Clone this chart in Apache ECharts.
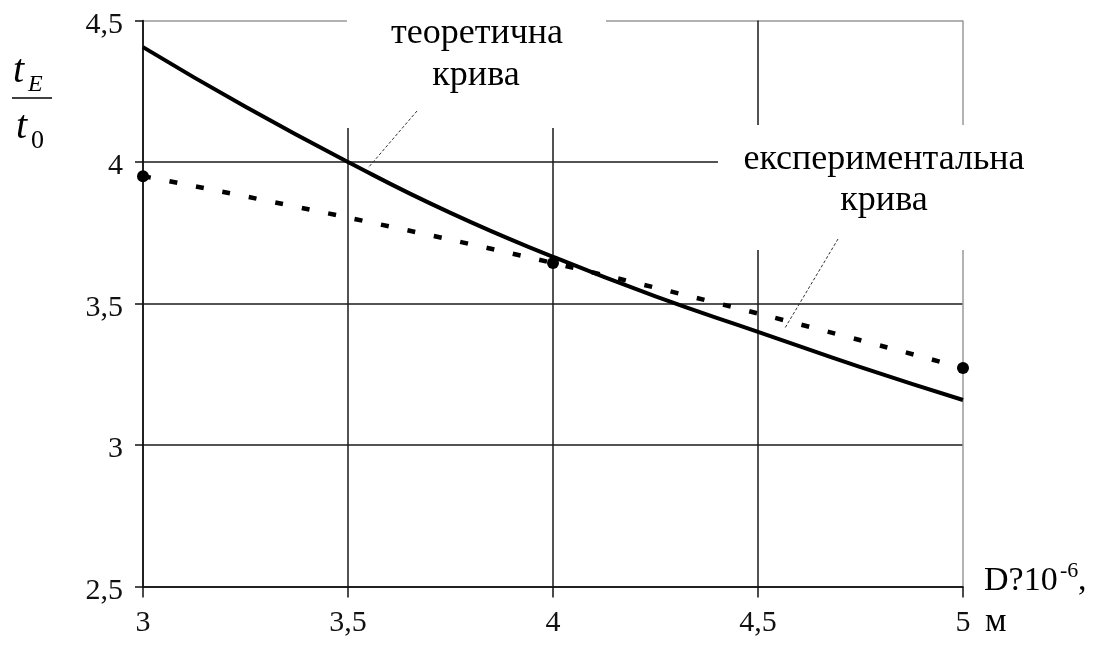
<!DOCTYPE html>
<html><head><meta charset="utf-8">
<script src="https://cdn.jsdelivr.net/npm/echarts@6/dist/echarts.min.js"></script>
<style>html,body{margin:0;padding:0;background:#fff}#c{width:1093px;height:655px}</style>
</head><body><div id="c"></div>
<script>
// ---- data ----
const xTicks = [3, 3.5, 4, 4.5, 5];
const yTicks = [2.5, 3, 3.5, 4, 4.5];
const theoryX = [3, 3.25, 3.5, 3.75, 4, 4.25, 4.5, 4.75, 5];
const theoryY = [4.406, 4.195, 4.0, 3.82, 3.665, 3.525, 3.40, 3.275, 3.159];
const expX = [3, 4, 5];
const expY = [3.95, 3.643, 3.272];
const labelTheory = ['теоретична', 'крива'];
const labelExp = ['експериментальна', 'крива'];

const F = '"Liberation Serif", "Times New Roman", serif';
const fmt = v => String(v).replace('.', ',');

const chart = echarts.init(document.getElementById('c'), null, {renderer: 'canvas'});
const GRID = {left: 143, top: 20.5, width: 820, height: 566};

const option = {
  backgroundColor: '#fff',
  animation: false,
  grid: GRID,
  xAxis: {
    type: 'value', min: xTicks[0], max: xTicks[xTicks.length - 1], interval: 0.5,
    axisLine: {show: true, lineStyle: {color: '#111', width: 1.5}},
    axisTick: {show: true, length: 11, lineStyle: {color: '#111', width: 1.5}},
    axisLabel: {color: '#111', fontFamily: F, fontSize: 30, margin: 22, formatter: fmt},
    splitLine: {show: true, lineStyle: {color: ['#1a1a1a', '#1a1a1a', '#1a1a1a', '#1a1a1a', '#999'], width: 1.5}}
  },
  yAxis: {
    type: 'value', min: yTicks[0], max: yTicks[yTicks.length - 1], interval: 0.5,
    axisLine: {show: true, lineStyle: {color: '#111', width: 1.5}},
    axisTick: {show: true, length: 8, lineStyle: {color: '#111', width: 1.5}},
    axisLabel: {
      color: '#111', fontFamily: F, fontSize: 30, margin: 20,
      formatter: v => '{a|' + fmt(v) + '}',
      rich: {a: {color: '#111', fontFamily: F, fontSize: 30, padding: [9, 0, 0, 0]}}
    },
    splitLine: {show: true, lineStyle: {color: ['#1a1a1a', '#1a1a1a', '#1a1a1a', '#1a1a1a', '#999'], width: 1.5}}
  },
  series: [
    {
      type: 'line', name: 'theory', smooth: true, showSymbol: false, symbol: 'none',
      data: theoryX.map((x, i) => [x, theoryY[i]]),
      lineStyle: {color: '#000', width: 4}, z: 5
    },
    {
      type: 'line', name: 'exp', smooth: true, symbol: 'circle', symbolSize: 12,
      data: expX.map((x, i) => [x, expY[i]]),
      itemStyle: {color: '#000'},
      lineStyle: {color: '#000', width: 4.5, type: [8, 19], cap: 'butt'}, z: 4
    }
  ],
  graphic: [
    // white label boxes covering grid
    {type: 'rect', z: 100, shape: {x: 347, y: 0, width: 259, height: 128}, style: {fill: '#fff'}},
    {type: 'rect', z: 100, shape: {x: 718, y: 125, width: 360, height: 125}, style: {fill: '#fff'}},
    {type: 'text', z: 101, x: 477, y: 34, style: {text: labelTheory[0], font: '36px ' + F, fill: '#000', align: 'center', verticalAlign: 'middle'}},
    {type: 'text', z: 101, x: 476, y: 76, style: {text: labelTheory[1], font: '36px ' + F, fill: '#000', align: 'center', verticalAlign: 'middle'}},
    {type: 'text', z: 101, x: 884, y: 160, style: {text: labelExp[0], font: '36px ' + F, fill: '#000', align: 'center', verticalAlign: 'middle'}},
    {type: 'text', z: 101, x: 884, y: 201, style: {text: labelExp[1], font: '36px ' + F, fill: '#000', align: 'center', verticalAlign: 'middle'}},
    // leader lines
    {type: 'line', z: 101, shape: {x1: 417, y1: 111, x2: 368, y2: 168}, style: {stroke: '#333', lineWidth: 1, lineDash: [3, 2]}},
    {type: 'line', z: 101, shape: {x1: 838, y1: 239, x2: 785, y2: 328}, style: {stroke: '#333', lineWidth: 1, lineDash: [3, 2]}},
    // y-axis title t_E / t_0
    {type: 'text', z: 101, x: 13, y: 91, style: {text: 't', font: 'italic 40px ' + F, fill: '#000', verticalAlign: 'bottom'}},
    {type: 'text', z: 101, x: 28, y: 97, style: {text: 'E', font: 'italic 24px ' + F, fill: '#000', verticalAlign: 'bottom'}},
    {type: 'line', z: 101, shape: {x1: 12, y1: 98, x2: 52, y2: 98}, style: {stroke: '#000', lineWidth: 1.5}},
    {type: 'text', z: 101, x: 16, y: 147, style: {text: 't', font: 'italic 40px ' + F, fill: '#000', verticalAlign: 'bottom'}},
    {type: 'text', z: 101, x: 31, y: 154, style: {text: '0', font: '26px ' + F, fill: '#000', verticalAlign: 'bottom'}},
    // x-axis name
    {type: 'text', z: 101, x: 984, y: 581, style: {text: 'D?10', font: '34px ' + F, fill: '#000', verticalAlign: 'middle'}},
    {type: 'text', z: 101, x: 1060, y: 571, style: {text: '-6', font: '22px ' + F, fill: '#000', verticalAlign: 'middle'}},
    {type: 'text', z: 101, x: 1078, y: 581, style: {text: ',', font: '34px ' + F, fill: '#000', verticalAlign: 'middle'}},
    {type: 'text', z: 101, x: 985, y: 622, style: {text: 'м', font: '34px ' + F, fill: '#000', verticalAlign: 'middle'}}
  ]
};
chart.setOption(option);
</script>
</body></html>
